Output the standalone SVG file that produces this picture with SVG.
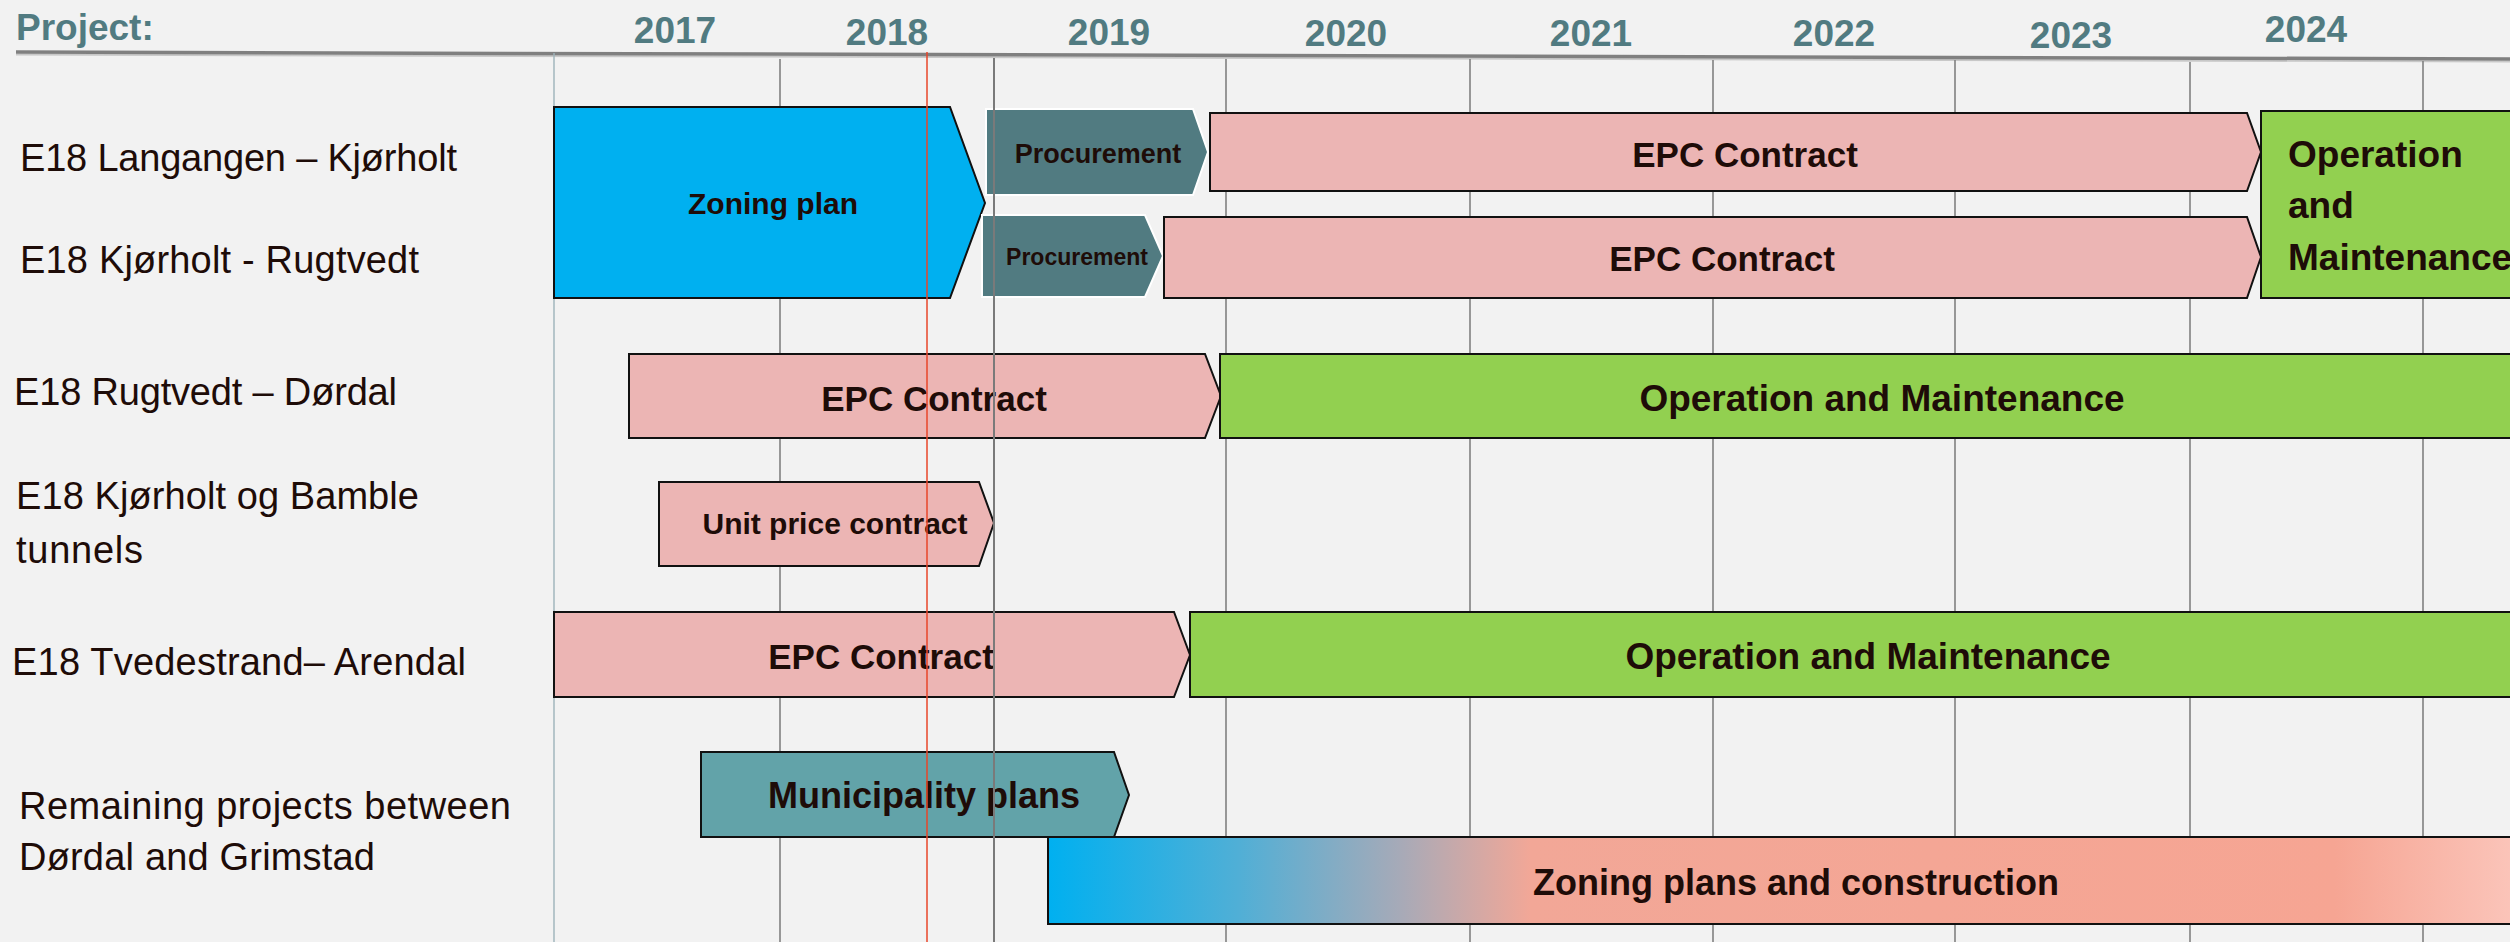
<svg xmlns="http://www.w3.org/2000/svg" width="2510" height="942" viewBox="0 0 2510 942">
  <style>
    .year { font-family: "Liberation Sans", Arial, sans-serif; font-weight: bold; font-size: 37px; fill: #517B81; text-anchor: middle; }
    .proj { font-family: "Liberation Sans", Arial, sans-serif; font-size: 38px; fill: #1E0C08; }
    .lbl { font-family: "Liberation Sans", Arial, sans-serif; font-weight: bold; fill: #1E0C08; text-anchor: middle; }
    .grid { stroke: #808080; stroke-width: 1.6; fill: none; }
    .bar { stroke: #111111; stroke-width: 2; stroke-linejoin: miter; }
    .blue { fill: #00B0F0; }
    .pink { fill: #ECB5B4; }
    .green { fill: #92D050; }
    .proc { fill: #517B81; stroke: #FFFFFF; stroke-width: 2; }
    .muni { fill: #62A3A9; }
  </style>
  <defs>
    <linearGradient id="zpc" x1="1048" y1="0" x2="2510" y2="0" gradientUnits="userSpaceOnUse">
      <stop offset="0" stop-color="#00B0F0"/>
      <stop offset="0.13" stop-color="#50AFD6"/>
      <stop offset="0.24" stop-color="#A6AAB8"/>
      <stop offset="0.33" stop-color="#F2A797"/>
      <stop offset="0.88" stop-color="#F6A593"/>
      <stop offset="1" stop-color="#FBC4B9"/>
    </linearGradient>
  </defs>

  <rect x="0" y="0" width="2510" height="942" fill="#F2F2F2"/>

  <g id="header">
    <text x="16" y="40" class="year" style="text-anchor:start">Project:</text>
    <text x="675" y="43" class="year">2017</text>
    <text x="887" y="45" class="year">2018</text>
    <text x="1109" y="45" class="year">2019</text>
    <text x="1346" y="46" class="year">2020</text>
    <text x="1591" y="46" class="year">2021</text>
    <text x="1834" y="46" class="year">2022</text>
    <text x="2071" y="48" class="year">2023</text>
    <text x="2306" y="42" class="year">2024</text>
    <line x1="16" y1="54.5" x2="2510" y2="61.5" stroke="#C8C8C8" stroke-width="2"/>
    <line x1="16" y1="52" x2="2510" y2="59" stroke="#808080" stroke-width="3.5"/>
  </g>

  <g id="grid">
    <line x1="554" y1="53" x2="554" y2="942" stroke="#9DB3BA" stroke-width="1.4"/>
    <line class="grid" x1="780" y1="59" x2="780" y2="942"/>
    <line class="grid" x1="1226" y1="59" x2="1226" y2="942"/>
    <line class="grid" x1="1470" y1="59" x2="1470" y2="942"/>
    <line class="grid" x1="1713" y1="60" x2="1713" y2="942"/>
    <line class="grid" x1="1955" y1="60" x2="1955" y2="942"/>
    <line class="grid" x1="2190" y1="62" x2="2190" y2="942"/>
    <line class="grid" x1="2423" y1="61" x2="2423" y2="942"/>
  </g>

  <g id="labels">
    <text class="proj" x="20" y="171" textLength="437">E18 Langangen – Kjørholt</text>
    <text class="proj" x="20" y="273" textLength="399">E18 Kjørholt - Rugtvedt</text>
    <text class="proj" x="14" y="405" textLength="383">E18 Rugtvedt – Dørdal</text>
    <text class="proj" x="16" y="509" textLength="403">E18 Kjørholt og Bamble</text>
    <text class="proj" x="16" y="563" textLength="127">tunnels</text>
    <text class="proj" x="12" y="675" textLength="454">E18 Tvedestrand– Arendal</text>
    <text class="proj" x="19" y="819" textLength="492">Remaining projects between</text>
    <text class="proj" x="19" y="870" textLength="356">Dørdal and Grimstad</text>
  </g>

  <g id="zoning-plan">
    <polygon class="bar blue" points="554,107 950,107 985,203 950,298 554,298"/>
    <text class="lbl" x="773" y="214" font-size="30">Zoning plan</text>
  </g>
  <g id="procurement-1">
    <polygon class="proc" points="986,109 1193,109 1208,152 1193,195 986,195"/>
    <text class="lbl" x="1098" y="163" font-size="27">Procurement</text>
  </g>
  <g id="procurement-2">
    <polygon class="proc" points="982,215 1145,215 1163,256 1145,297 982,297"/>
    <text class="lbl" x="1077" y="265" font-size="23">Procurement</text>
  </g>
  <g id="epc-1">
    <polygon class="bar pink" points="1210,113 2247,113 2261,152 2247,191 1210,191"/>
    <text class="lbl" x="1745" y="167" font-size="35">EPC Contract</text>
  </g>
  <g id="epc-2">
    <polygon class="bar pink" points="1164,217 2247,217 2261,257 2247,298 1164,298"/>
    <text class="lbl" x="1722" y="271" font-size="35">EPC Contract</text>
  </g>
  <g id="om-1">
    <rect class="bar green" x="2261" y="111" width="260" height="187"/>
    <text class="lbl" x="2288" y="167" font-size="37" style="text-anchor:start">Operation</text>
    <text class="lbl" x="2288" y="218" font-size="37" style="text-anchor:start">and</text>
    <text class="lbl" x="2288" y="270" font-size="37" style="text-anchor:start">Maintenance</text>
  </g>
  <g id="epc-3">
    <polygon class="bar pink" points="629,354 1205,354 1221,396 1205,438 629,438"/>
    <text class="lbl" x="934" y="411" font-size="35">EPC Contract</text>
  </g>
  <g id="om-3">
    <rect class="bar green" x="1220" y="354" width="1300" height="84"/>
    <text class="lbl" x="1882" y="411" font-size="37">Operation and Maintenance</text>
  </g>
  <g id="unit-price">
    <polygon class="bar pink" points="659,482 979,482 994,523 979,566 659,566"/>
    <text class="lbl" x="835" y="534" font-size="30">Unit price contract</text>
  </g>
  <g id="epc-5">
    <polygon class="bar pink" points="554,612 1174,612 1190,655 1174,697 554,697"/>
    <text class="lbl" x="881" y="669" font-size="35">EPC Contract</text>
  </g>
  <g id="om-5">
    <rect class="bar green" x="1190" y="612" width="1330" height="85"/>
    <text class="lbl" x="1868" y="669" font-size="37">Operation and Maintenance</text>
  </g>
  <g id="municipality">
    <polygon class="bar muni" points="701,752 1114,752 1129,795 1114,837 701,837"/>
    <text class="lbl" x="924" y="808" font-size="36">Municipality plans</text>
  </g>
  <g id="zoning-construction">
    <rect class="bar" x="1048" y="837" width="1470" height="87" fill="url(#zpc)"/>
    <text class="lbl" x="1796" y="895" font-size="36">Zoning plans and construction</text>
  </g>

  <g id="connectors">
    <line x1="994" y1="58" x2="994" y2="942" stroke="#7A7A7A" stroke-width="2"/>
    <line x1="927" y1="52" x2="927" y2="942" stroke="#E8462A" stroke-width="1.5"/>
  </g>
</svg>
